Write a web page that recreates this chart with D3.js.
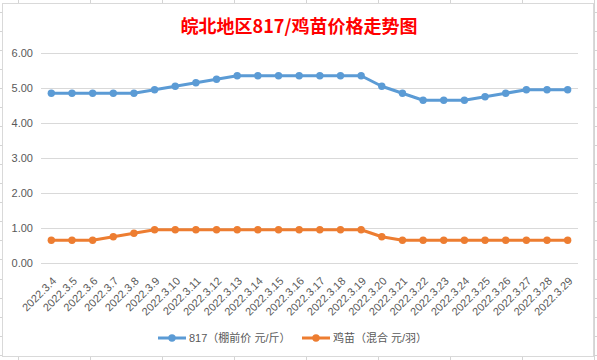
<!DOCTYPE html>
<html><head><meta charset="utf-8">
<script src="https://cdn.jsdelivr.net/npm/d3@7"></script>
<style>body{margin:0;background:#fff}svg{display:block}</style>
</head><body>
<svg id="c" width="597" height="360"></svg>
<script>
const dates = ["2022.3.4","2022.3.5","2022.3.6","2022.3.7","2022.3.8","2022.3.9","2022.3.10","2022.3.11","2022.3.12","2022.3.13","2022.3.14","2022.3.15","2022.3.16","2022.3.17","2022.3.18","2022.3.19","2022.3.20","2022.3.21","2022.3.22","2022.3.23","2022.3.24","2022.3.25","2022.3.26","2022.3.27","2022.3.28","2022.3.29"];
const broiler817 = [4.85,4.85,4.85,4.85,4.85,4.95,5.05,5.15,5.25,5.35,5.35,5.35,5.35,5.35,5.35,5.35,5.05,4.85,4.65,4.65,4.65,4.75,4.85,4.95,4.95,4.95];
const chick = [0.65,0.65,0.65,0.75,0.85,0.95,0.95,0.95,0.95,0.95,0.95,0.95,0.95,0.95,0.95,0.95,0.75,0.65,0.65,0.65,0.65,0.65,0.65,0.65,0.65,0.65];
const yTicks = [0,1,2,3,4,5,6];
const seriesNames = ["817（棚前价 元/斤）","鸡苗（混合 元/羽）"];
const title = "皖北地区817/鸡苗价格走势图";

const svg = d3.select("#c");
const W = 597, H = 360;
const font = "'Liberation Sans', Arial, 'Noto Sans CJK SC', sans-serif";

// spreadsheet cell grid behind the chart
const bg = svg.append("g").attr("stroke","#d4d4d4").attr("stroke-width",1);
d3.range(18, W, 72).forEach(x => bg.append("line").attr("x1",x+0.5).attr("x2",x+0.5).attr("y1",0).attr("y2",H));
d3.range(0, 19).map(k => 11.7 + 19.06*k).forEach(y => bg.append("line").attr("x1",0).attr("x2",W).attr("y1",Math.round(y)+0.5).attr("y2",Math.round(y)+0.5));

// chart frame
svg.append("rect").attr("x",2.5).attr("y",3.5).attr("width",591).attr("height",353)
  .attr("fill","#fff").attr("stroke","#d9d9d9");

const x = d3.scalePoint().domain(dates).range([41,578]).padding(0.5);
const y = d3.scaleLinear().domain([0,6]).range([263,53]);

// title
svg.append("text").attr("x",299).attr("y",33).attr("text-anchor","middle")
  .attr("font-family","'Noto Sans CJK SC', sans-serif").attr("font-weight","bold")
  .attr("font-size",18).attr("fill","#ff0000").text(title);

// y axis grid + labels
const yAxis = d3.axisLeft(y).tickValues(yTicks).tickFormat(d3.format(".2f")).tickSize(-(578-41)).tickPadding(8);
const gy = svg.append("g").attr("transform","translate(41,0)").call(yAxis);
gy.select(".domain").remove();
gy.selectAll(".tick line").attr("stroke","#d9d9d9").attr("shape-rendering","crispEdges");
gy.selectAll(".tick text").attr("font-family",font).attr("font-size",11).attr("fill","#595959").attr("x",-8);

// x labels
const xAxis = d3.axisBottom(x).tickSize(0);
const gx = svg.append("g").attr("transform","translate(0,263)").call(xAxis);
gx.select(".domain").remove();
gx.selectAll(".tick text")
  .attr("font-family",font).attr("font-size",11).attr("fill","#595959")
  .attr("text-anchor","end").attr("y",0).attr("dy","0.35em")
  .attr("transform","translate(2.5,16) rotate(-45)");

// series
const series = [
  {name: seriesNames[0], values: broiler817, color: "#5b9bd5"},
  {name: seriesNames[1], values: chick, color: "#ed7d31"}
];
const line = d3.line().x((d,i)=>x(dates[i])).y(d=>y(d));
series.forEach(s => {
  svg.append("path").datum(s.values).attr("d",line).attr("fill","none")
    .attr("stroke",s.color).attr("stroke-width",3).attr("stroke-linejoin","round");
  svg.append("g").selectAll("circle").data(s.values).join("circle")
    .attr("cx",(d,i)=>x(dates[i])).attr("cy",d=>y(d)).attr("r",3.7).attr("fill",s.color);
});

// legend
const legendPos = [158, 302];
series.forEach((s,i) => {
  const g = svg.append("g").attr("transform",`translate(${legendPos[i]},338)`);
  g.append("line").attr("x1",0).attr("x2",28).attr("y1",0).attr("y2",0).attr("stroke",s.color).attr("stroke-width",3);
  g.append("circle").attr("cx",14).attr("cy",0).attr("r",3.7).attr("fill",s.color);
  g.append("text").attr("x",31).attr("y",0).attr("dy","0.35em").attr("font-family",font)
    .attr("font-size",11).attr("fill","#595959").text(s.name);
});
</script>
</body></html>
